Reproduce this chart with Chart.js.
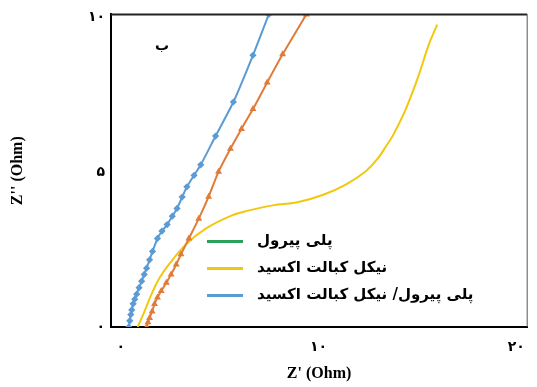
<!DOCTYPE html>
<html><head><meta charset="utf-8">
<script src="https://cdn.jsdelivr.net/npm/chart.js@4/dist/chart.umd.min.js"></script>
<style>html,body{margin:0;padding:0;background:#fff}#w{width:537px;height:387px}</style>
</head><body><div id="w"><canvas id="c"></canvas></div>
<script>
const seriesNames = ['پلی پیرول', 'نیکل کبالت اکسید', 'پلی پیرول/ نیکل کبالت اکسید'];
const xTicks = [0, 10, 20];
const yTicks = [0, 5, 10];
const xTickLabels = ['۰', '۱۰', '۲۰'];
const yTickLabels = ['۰', '۵', '۱۰'];
const blueX = [0.40,0.45,0.50,0.55,0.62,0.70,0.80,0.92,1.05,1.18,1.30,1.45,1.60,1.85,2.08,2.34,2.60,2.84,3.10,3.34,3.70,4.04,4.79,5.69,6.68,7.48];
const blueY = [0.00,0.20,0.40,0.55,0.75,0.90,1.06,1.27,1.48,1.70,1.90,2.17,2.44,2.86,3.10,3.31,3.58,3.83,4.20,4.53,4.90,5.24,6.17,7.27,8.78,10.10];
const orangeX = [1.30,1.37,1.45,1.58,1.70,1.85,2.04,2.30,2.54,2.80,3.04,3.44,3.94,4.44,4.94,5.54,6.10,6.68,7.40,8.18,9.38];
const orangeY = [0.00,0.15,0.29,0.50,0.74,0.95,1.16,1.43,1.70,2.02,2.35,2.86,3.50,4.21,5.02,5.76,6.40,7.04,7.90,8.81,10.10];
const yellowX = [0.85,1.20,1.55,1.95,2.44,3.29,4.29,5.59,6.43,7.68,8.93,10.27,11.42,12.42,13.00,13.42,13.77,14.41,15.06,15.56,16.00];
const yellowY = [0.00,0.51,1.06,1.58,2.03,2.67,3.18,3.60,3.76,3.93,4.03,4.28,4.62,5.05,5.45,5.85,6.20,7.04,8.13,9.10,9.77];
const panelLabel = 'ب';

const pts = (xs, ys) => xs.map((x, i) => ({x, y: ys[i]}));
const fa = '"DejaVu Sans", sans-serif';

const extras = {
  id: 'extras',
  afterDraw(chart) {
    const {ctx, chartArea: a} = chart;
    ctx.save();
    ctx.strokeStyle = '#222';
    ctx.lineWidth = 2;
    ctx.beginPath();
    ctx.moveTo(a.left, a.top); ctx.lineTo(a.right, a.top);
    ctx.stroke();
    ctx.strokeStyle = '#555';
    ctx.lineWidth = 1;
    ctx.beginPath();
    ctx.moveTo(a.right, a.top); ctx.lineTo(a.right, a.bottom);
    ctx.stroke();
    // panel label
    ctx.fillStyle = '#000';
    ctx.font = 'bold 14px ' + fa;
    ctx.textAlign = 'center'; ctx.textBaseline = 'middle';
    ctx.fillText(panelLabel, a.left + 51, a.top + 32);
    // legend
    const cols = ['#2ca05a', '#f2c80f', '#5b9bd5'];
    const lx = a.left + 96, ly = a.top + 227, gap = 27;
    ctx.font = 'bold 15px ' + fa;
    ctx.textAlign = 'left';
    ctx.direction = 'ltr';
    for (let i = 0; i < 3; i++) {
      const y = ly + i * gap;
      ctx.strokeStyle = cols[i]; ctx.lineWidth = 3;
      ctx.beginPath(); ctx.moveTo(lx, y); ctx.lineTo(lx + 36, y); ctx.stroke();
      ctx.fillStyle = '#000';
      ctx.fillText(seriesNames[i], lx + 50, y);
    }
    ctx.restore();
  }
};

new Chart(document.getElementById('c'), {
  type: 'scatter',
  data: {
    datasets: [
      {label: 'orange', data: pts(orangeX, orangeY), showLine: true, borderColor: '#e07b39', backgroundColor: '#e07b39', borderWidth: 2, pointStyle: 'triangle', pointRadius: 2, tension: 0.2},
      {label: seriesNames[1], data: pts(yellowX, yellowY), showLine: true, borderColor: '#f2c80f', backgroundColor: '#f2c80f', borderWidth: 2, pointRadius: 0, tension: 0.4},
      {label: seriesNames[2], data: pts(blueX, blueY), showLine: true, borderColor: '#5b9bd5', backgroundColor: '#5b9bd5', borderWidth: 2, pointStyle: 'rectRot', pointRadius: 2.2, tension: 0.2}
    ]
  },
  options: {
    responsive: true, maintainAspectRatio: false, animation: false,
    layout: {padding: {top: 12, right: 4, left: 4, bottom: 0}},
    plugins: {legend: {display: false}, tooltip: {enabled: false}},
    scales: {
      x: {
        min: -0.5, max: 20.55,
        grid: {display: false, drawTicks: false},
        border: {color: '#000', width: 2},
        afterBuildTicks: s => { s.ticks = xTicks.map(v => ({value: v})); },
        ticks: {color: '#000', padding: 12, font: {family: fa, size: 14, weight: 'bold'}, callback: (v) => xTickLabels[xTicks.indexOf(v)]},
        title: {display: true, text: "Z' (Ohm)", color: '#000', font: {family: '"Liberation Serif", serif', size: 16, weight: 'bold'}, padding: {top: 6}},
        afterFit: s => { s.height = 60; }
      },
      y: {
        min: 0, max: 10.1,
        grid: {display: false, drawTicks: false},
        border: {color: '#000', width: 2},
        afterBuildTicks: s => { s.ticks = yTicks.map(v => ({value: v})); },
        ticks: {color: '#000', padding: 6, font: {family: fa, size: 14, weight: 'bold'}, callback: (v) => yTickLabels[yTicks.indexOf(v)]},
        title: {display: true, text: "Z'' (Ohm)", color: '#000', font: {family: '"Liberation Serif", serif', size: 16, weight: 'bold'}},
        afterFit: s => { s.width = 107; }
      }
    }
  },
  plugins: [extras]
});
</script></body></html>
